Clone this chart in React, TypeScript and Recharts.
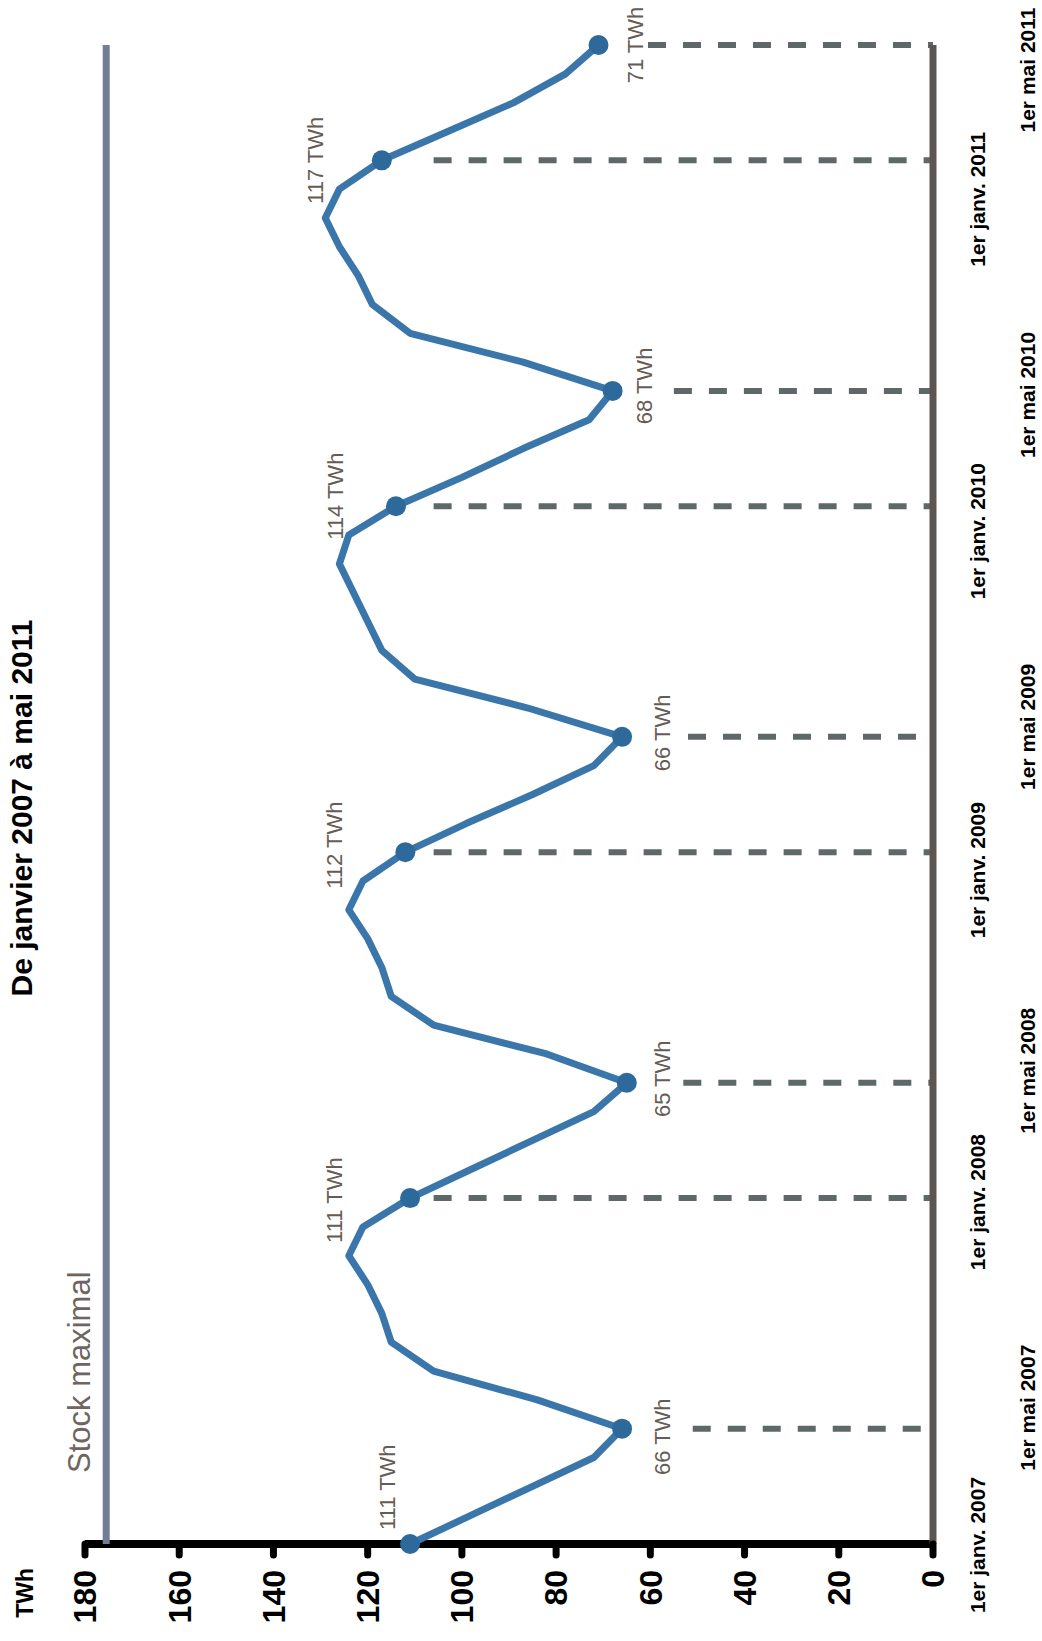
import React from 'react';
import { ComposedChart, Line, XAxis, YAxis, ReferenceLine } from 'recharts';

// ---------- data ----------
// months counted from 1 January 2007
const monthIndex = [
  0, 1, 2, 3, 4, 5, 6, 7, 8, 9, 10, 11,
  12, 13, 14, 15, 16, 17, 18, 19, 20, 21, 22, 23,
  24, 25, 26, 27, 28, 29, 30, 31, 32, 33, 34, 35,
  36, 37, 38, 39, 40, 41, 42, 43, 44, 45, 46, 47,
  48, 49, 50, 51, 52,
];
// stored energy, TWh
const storedEnergy = [
  111, 98, 85, 72, 66, 84, 106, 115, 117, 120, 124, 121,
  111, 98, 85, 72, 65, 82, 106, 115, 117, 120, 124, 121,
  112, 99, 85, 72, 66, 86, 110, 117, 120, 123, 126, 124,
  114, 100, 87, 73, 68, 87, 111, 119, 122, 126, 129, 126,
  117, 103, 89, 78, 71,
];
const markerMonths = [0, 4, 12, 16, 24, 28, 36, 40, 48, 52];
const dateTickLabels = [
  '1er janv. 2007', '1er mai 2007', '1er janv. 2008', '1er mai 2008',
  '1er janv. 2009', '1er mai 2009', '1er janv. 2010', '1er mai 2010',
  '1er janv. 2011', '1er mai 2011',
];
const valueTicks = [0, 20, 40, 60, 80, 100, 120, 140, 160, 180];
const maxStock = 175.5;
const titleText = 'De janvier 2007 à mai 2011';
const unitText = 'TWh';
const maxStockText = 'Stock maximal';

const chartData = monthIndex.map((t, i) => ({ t, v: storedEnergy[i] }));

// ---------- styling ----------
const FONT = '"Liberation Sans", Arial, Helvetica, sans-serif';
const LINE_COLOR = '#3b76ab';
const DOT_COLOR = '#2d6a9b';
const LABEL_COLOR = '#665c53';
const DASH_COLOR = '#5e6869';
const ZERO_AXIS = '#5c5652';
const STOCK_COLOR = '#727c94';

// label offsets (px) for each marked point
const markerLabelPlacement: { dx: number; dy: number; anchor?: 'start' | 'middle' | 'end' }[] = [
  { dx: 14, dy: -15, anchor: 'start' },
  { dx: -8, dy: 48 },
  { dx: -2, dy: -68 },
  { dx: 4, dy: 43 },
  { dx: 7, dy: -63 },
  { dx: 4, dy: 48 },
  { dx: 10, dy: -53 },
  { dx: 5, dy: 39 },
  { dx: 0, dy: -59 },
  { dx: 0, dy: 44 },
];
// value where each dashed guide starts (towards the time axis)
const dashFrom: (number | null)[] = [null, 51, 106, 53, 106, 52, 106, 55, 106, 60.5];
// horizontal shift of date labels
const dateLabelShift = [-1, 21, -4, 12, -18, 10, -25, -4, -39, -25];

const W = 1641;
const H = 1042;

const renderDot = (props: any) => {
  const { cx, cy, payload, index } = props;
  const k = markerMonths.indexOf(payload.t);
  if (k < 0) return <g key={`d${index}`} />;
  const p = markerLabelPlacement[k];
  return (
    <g key={`d${index}`}>
      <circle cx={cx} cy={cy} r={10} fill={DOT_COLOR} />
      <text
        x={cx + p.dx}
        y={cy + p.dy}
        textAnchor={p.anchor ?? 'middle'}
        fontSize={22}
        fill={LABEL_COLOR}
        fontFamily={FONT}
      >
        {`${payload.v} TWh`}
      </text>
    </g>
  );
};

const DateTick = (props: any) => {
  const { x, y, payload } = props;
  const k = markerMonths.indexOf(payload.value);
  if (k < 0) return <g />;
  const row = k % 2 === 0 ? 52 : 102;
  return (
    <text
      x={x + dateLabelShift[k]}
      y={y + row}
      textAnchor="middle"
      fontSize={21}
      fontWeight="bold"
      fill="#000"
      fontFamily={FONT}
    >
      {dateTickLabels[k]}
    </text>
  );
};

const renderStockLabel = (props: any) => {
  const vb = props.viewBox || { x: 97, y: 106 };
  return (
    <text x={vb.x + 71} y={vb.y - 16} fontSize={31} fill="#6d655e" fontFamily={FONT}>
      {maxStockText}
    </text>
  );
};

export default function App() {
  return (
    <>
      <style>{'html,body{margin:0;padding:0;overflow:hidden;background:#fff}'}</style>
      <div
        style={{
          position: 'absolute',
          left: 0,
          top: 0,
          width: W,
          height: H,
          background: '#fff',
          transformOrigin: '0 0',
          transform: `translate(0px, ${W}px) rotate(-90deg)`,
        }}
      >
        <ComposedChart
          width={W}
          height={H}
          data={chartData}
          margin={{ top: 85, right: 45, bottom: 29, left: 27 }}
        >
          <XAxis
            type="number"
            dataKey="t"
            domain={[0, 52]}
            ticks={markerMonths}
            interval={0}
            height={80}
            tickSize={0}
            tickMargin={0}
            tickLine={false}
            axisLine={{ stroke: ZERO_AXIS, strokeWidth: 7 }}
            tick={(p: any) => <DateTick {...p} />}
          />
          <YAxis
            type="number"
            domain={[0, 180]}
            ticks={valueTicks}
            interval={0}
            width={70}
            tickSize={11}
            tickMargin={15}
            axisLine={false}
            tickLine={{ stroke: '#000', strokeWidth: 7, strokeLinecap: 'round' }}
            tick={{ fill: '#000', fontSize: 32, fontWeight: 'bold', fontFamily: FONT }}
          />
          <ReferenceLine x={0} stroke="#000" strokeWidth={8} />
          <ReferenceLine
            y={maxStock}
            stroke={STOCK_COLOR}
            strokeWidth={7}
            label={renderStockLabel}
          />
          {markerMonths.map((t, k) =>
            dashFrom[k] === null ? null : (
              <ReferenceLine
                key={`dash${k}`}
                segment={[
                  { x: t, y: dashFrom[k] as number },
                  { x: t, y: 0 },
                ]}
                stroke={DASH_COLOR}
                strokeWidth={6}
                strokeDasharray="18 17"
              />
            )
          )}
          <Line
            type="linear"
            dataKey="v"
            stroke={LINE_COLOR}
            strokeWidth={7}
            strokeLinejoin="round"
            dot={renderDot}
            activeDot={false}
            isAnimationActive={false}
          />
        </ComposedChart>
        <svg
          width={W}
          height={H}
          style={{ position: 'absolute', left: 0, top: 0, pointerEvents: 'none' }}
        >
          <text x={833} y={32} textAnchor="middle" fontSize={30} fontWeight="bold" fill="#000" fontFamily={FONT}>
            {titleText}
          </text>
          <text x={73} y={33} textAnchor="end" fontSize={23} fontWeight="bold" fill="#000" fontFamily={FONT}>
            {unitText}
          </text>
        </svg>
      </div>
    </>
  );
}
